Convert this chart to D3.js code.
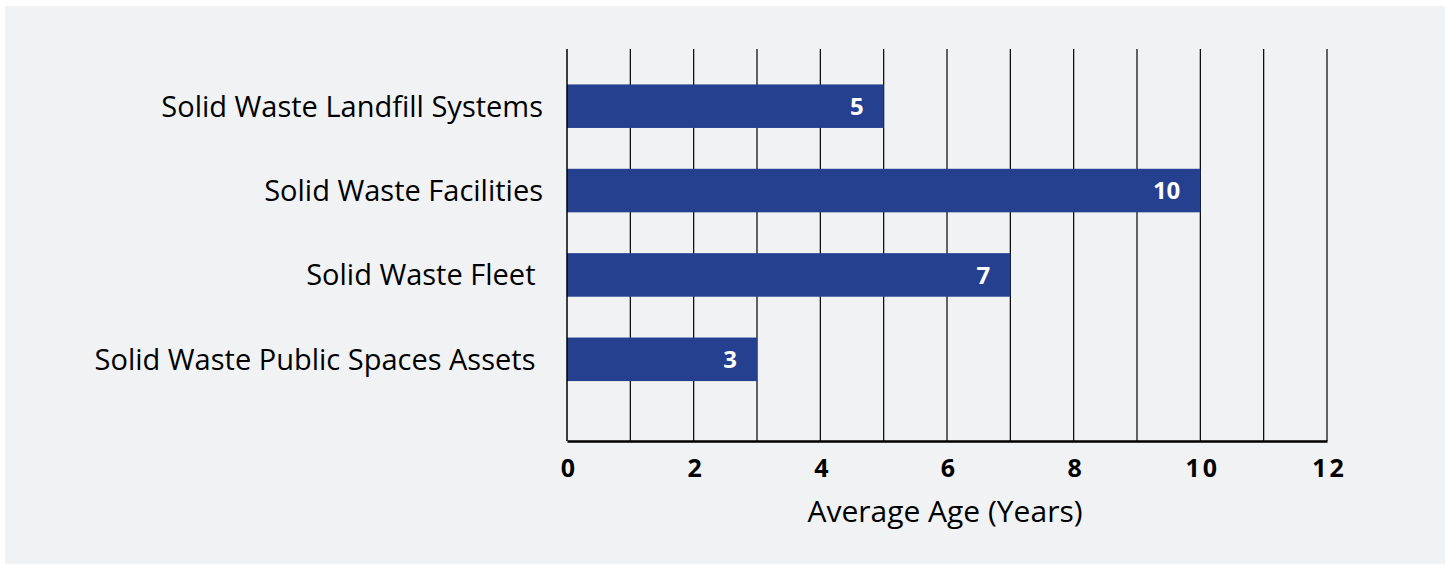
<!DOCTYPE html>
<html>
<head>
<meta charset="utf-8">
<script src="https://cdn.jsdelivr.net/npm/d3@7"></script>
<style>
  html, body { margin: 0; padding: 0; background: #ffffff; }
  svg { display: block; }
  text { font-family: "Open Sans", "Noto Sans", sans-serif; }
</style>
</head>
<body>
<svg id="chart" width="1449" height="565"></svg>
<script>
const categories = ["Solid Waste Landfill Systems", "Solid Waste Facilities", "Solid Waste Fleet ", "Solid Waste Public Spaces Assets "];
const values = [5, 10, 7, 3];
const tickValues = [0, 2, 4, 6, 8, 10, 12];
const gridValues = [1, 2, 3, 4, 5, 6, 7, 8, 9, 10, 11, 12];
const axisTitle = "Average Age (Years)";

const svg = d3.select("#chart");
svg.append("rect").attr("x", 5).attr("y", 6).attr("width", 1440).attr("height", 558).attr("fill", "#f1f2f4");

const x = d3.scaleLinear().domain([0, 12]).range([567, 1327]);
const y = d3.scaleBand().domain(categories).range([64, 401.5]).paddingInner(0.484).paddingOuter(0.242);
const plotTop = 49, plotBottom = 441;

// gridlines
svg.append("g").selectAll("line").data(gridValues).join("line")
  .attr("x1", d => x(d)).attr("x2", d => x(d))
  .attr("y1", plotTop).attr("y2", plotBottom)
  .attr("stroke", "#000").attr("stroke-width", 1.2);

// bars
svg.append("g").selectAll("rect").data(values).join("rect")
  .attr("x", x(0)).attr("y", (d, i) => y(categories[i]))
  .attr("width", d => x(d) - x(0)).attr("height", y.bandwidth())
  .attr("fill", "#25408f");

// value labels
svg.append("g").selectAll("text").data(values).join("text")
  .attr("x", d => x(d) - 20).attr("y", (d, i) => y(categories[i]) + y.bandwidth() / 2)
  .attr("dy", "0.36em").attr("text-anchor", "end")
  .attr("fill", "#fff").attr("font-weight", "bold").attr("font-size", 24)
  .text(d => d);

// y-axis line
svg.append("line").attr("x1", x(0)).attr("x2", x(0)).attr("y1", plotTop).attr("y2", plotBottom)
  .attr("stroke", "#000").attr("stroke-width", 1.5);

// category labels
svg.append("g").selectAll("text").data(categories).join("text")
  .attr("x", 543).attr("y", d => y(d) + y.bandwidth() / 2)
  .attr("dy", "0.36em").attr("text-anchor", "end")
  .attr("font-size", 29).attr("fill", "#000")
  .style("white-space", "pre")
  .text(d => d);

// x axis
const xAxis = d3.axisBottom(x).tickValues(tickValues).tickSize(0).tickPadding(18);
const gx = svg.append("g").attr("transform", `translate(0,${plotBottom})`).call(xAxis);
gx.select(".domain").attr("stroke", "#000").attr("stroke-width", 2.5);
gx.selectAll(".tick text")
  .attr("font-family", "'Open Sans', sans-serif")
  .attr("font-size", 25).attr("font-weight", "bold").attr("fill", "#000")
  .attr("letter-spacing", 3).attr("dx", 2);

// axis title
svg.append("text").attr("x", 945).attr("y", 522).attr("text-anchor", "middle")
  .attr("font-size", 30).attr("fill", "#000").text(axisTitle);
</script>
</body>
</html>
